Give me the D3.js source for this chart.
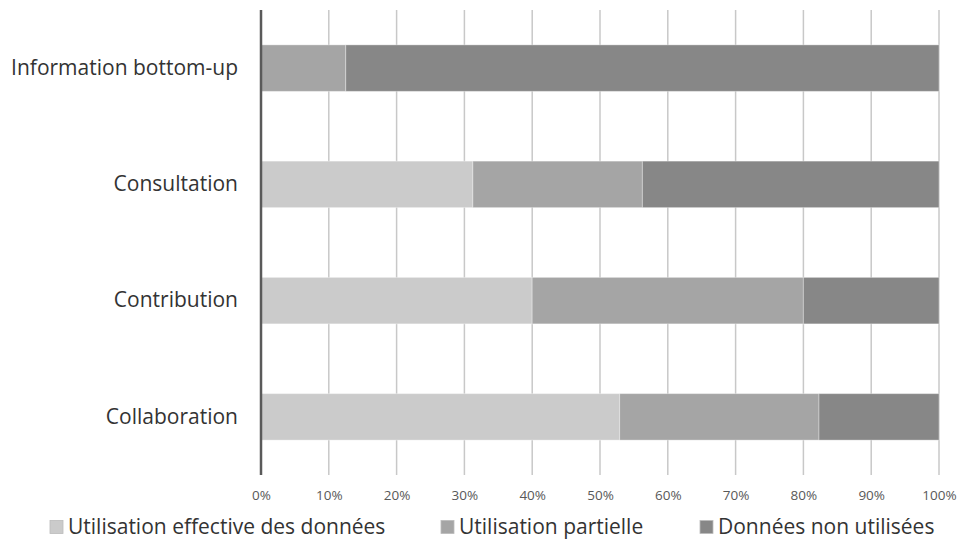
<!DOCTYPE html>
<html>
<head>
<meta charset="utf-8">
<script src="https://cdn.jsdelivr.net/npm/d3@7"></script>
<style>
  html, body { margin: 0; padding: 0; background: #fff; }
  svg { display: block; }
</style>
</head>
<body>
<svg id="chart" width="958" height="545"></svg>
<script>
const categories = ["Information bottom-up", "Consultation", "Contribution", "Collaboration"];
const seriesNames = ["Utilisation effective des données", "Utilisation partielle", "Données non utilisées"];
const effective = [0, 31.25, 40, 52.9];
const partial = [12.5, 25, 40, 29.4];
const unused = [87.5, 43.75, 20, 17.7];
const tickValues = [0, 10, 20, 30, 40, 50, 60, 70, 80, 90, 100];
const tickLabels = ["0%", "10%", "20%", "30%", "40%", "50%", "60%", "70%", "80%", "90%", "100%"];
const colors = ["#cbcbcb", "#a5a5a5", "#878787"];

const svg = d3.select("#chart");
const mLeft = 261, mRight = 939, mTop = 10, mBottom = 475;

const x = d3.scaleLinear().domain([0, 100]).range([mLeft, mRight]);
const y = d3.scaleBand().domain(categories).range([mTop, mBottom]).paddingInner(0.6).paddingOuter(0.3);

// gridlines
svg.append("g").selectAll("line")
  .data(tickValues.slice(1))
  .join("line")
  .attr("x1", d => x(d)).attr("x2", d => x(d))
  .attr("y1", mTop).attr("y2", mBottom)
  .attr("stroke", "#c8c8c8").attr("stroke-width", 1.5);

// stacked bars
const stackData = categories.map((c, i) => ({cat: c, s0: effective[i], s1: partial[i], s2: unused[i]}));
const stack = d3.stack().keys(["s0", "s1", "s2"]);
const layers = stack(stackData);

svg.append("g").selectAll("g")
  .data(layers)
  .join("g")
  .attr("fill", (d, i) => colors[i])
  .selectAll("rect")
  .data(d => d)
  .join("rect")
  .attr("x", d => x(d[0]))
  .attr("width", d => Math.max(0, x(d[1]) - x(d[0])))
  .attr("y", d => y(d.data.cat))
  .attr("height", y.bandwidth())
  .attr("stroke", d => (d[1] - d[0]) > 0 ? "#ffffff" : "none")
  .attr("stroke-opacity", 0.35)
  .attr("stroke-width", 1);

// axis line at 0
svg.append("line")
  .attr("x1", x(0)).attr("x2", x(0))
  .attr("y1", mTop).attr("y2", mBottom)
  .attr("stroke", "#5a5a5a").attr("stroke-width", 2.5);

// x tick labels
const xAxis = d3.axisBottom(x).tickValues(tickValues).tickFormat((d, i) => tickLabels[i]).tickSize(0).tickPadding(0);
const gx = svg.append("g").attr("transform", `translate(0, ${mBottom + 15})`).call(xAxis);
gx.select(".domain").remove();
gx.selectAll("text")
  .attr("font-family", "'Open Sans', sans-serif")
  .attr("font-size", 13.5)
  .attr("fill", "#595959");

// y category labels
const yAxis = d3.axisLeft(y).tickSize(0).tickPadding(0);
const gy = svg.append("g").attr("transform", `translate(${mLeft - 23}, 0)`).call(yAxis);
gy.select(".domain").remove();
gy.selectAll("text")
  .attr("font-family", "'Open Sans', sans-serif")
  .attr("font-size", 21)
  .attr("fill", "#333333");

// legend
const legendX = [50, 441, 700];
const lg = svg.append("g").selectAll("g")
  .data(seriesNames)
  .join("g")
  .attr("transform", (d, i) => `translate(${legendX[i]}, 527)`);
lg.append("rect")
  .attr("x", 0).attr("y", -6.5).attr("width", 13).attr("height", 13)
  .attr("fill", (d, i) => colors[i])
  .attr("stroke", "#bbbbbb").attr("stroke-width", 0.8);
lg.append("text")
  .attr("x", 18).attr("y", 0).attr("dy", "0.35em")
  .attr("font-family", "'Open Sans', sans-serif")
  .attr("font-size", 21)
  .attr("fill", "#333333")
  .text(d => d);
</script>
</body>
</html>
